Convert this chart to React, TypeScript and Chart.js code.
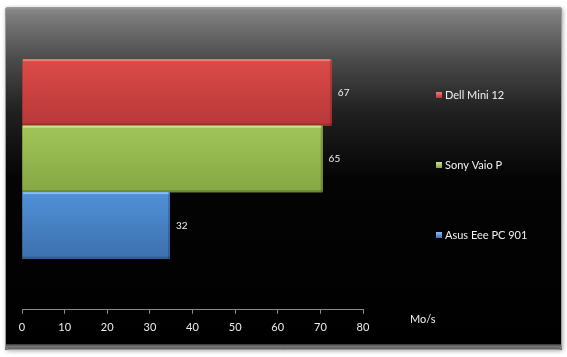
import React, { useEffect, useRef } from "react";
import { Chart, registerables } from "chart.js";

Chart.register(...registerables);

const seriesNames = ["Dell Mini 12", "Sony Vaio P", "Asus Eee PC 901"];
const seriesValues = [67, 65, 32];
const axisMin = 0;
const axisMax = 80;
const axisStep = 10;
const unitLabel = "Mo/s";

const baseColors = ["#d04340", "#98bb50", "#4a85cc"];
const topColors = ["#dc4b48", "#a2c55a", "#5091d8"];
const bottomColors = ["#b8383a", "#86a742", "#3e70ad"];
const highlightColors = ["#f27a76", "#c8e48a", "#86bdf5"];

const FONT = "Lato, 'Open Sans', 'DejaVu Sans', sans-serif";

function roundRect(ctx: CanvasRenderingContext2D, x: number, y: number, w: number, h: number, r: number) {
  ctx.beginPath();
  ctx.moveTo(x + r, y);
  ctx.lineTo(x + w - r, y);
  ctx.quadraticCurveTo(x + w, y, x + w, y + r);
  ctx.lineTo(x + w, y + h - r);
  ctx.quadraticCurveTo(x + w, y + h, x + w - r, y + h);
  ctx.lineTo(x + r, y + h);
  ctx.quadraticCurveTo(x, y + h, x, y + h - r);
  ctx.lineTo(x, y + r);
  ctx.quadraticCurveTo(x, y, x + r, y);
  ctx.closePath();
}

const framePlugin = {
  id: "frame",
  beforeDraw(chart: any) {
    const ctx: CanvasRenderingContext2D = chart.ctx;
    const fx = 5, fy = 7, fw = 557, fh = 343;
    ctx.save();
    ctx.fillStyle = "#ffffff";
    ctx.fillRect(0, 0, chart.width, chart.height);
    ctx.shadowColor = "rgba(0,0,0,0.35)";
    ctx.shadowBlur = 4;
    ctx.shadowOffsetX = 1;
    ctx.shadowOffsetY = 1;
    roundRect(ctx, fx, fy, fw, fh, 3);
    const g = ctx.createLinearGradient(0, fy, 0, fy + fh);
    g.addColorStop(0, "#8a8a8a");
    g.addColorStop(0.03, "#7a7a7a");
    g.addColorStop(0.15, "#4c4c4c");
    g.addColorStop(0.3, "#212121");
    g.addColorStop(0.5, "#040404");
    g.addColorStop(1, "#000000");
    ctx.fillStyle = g;
    ctx.fill();
    ctx.shadowColor = "transparent";
    const bg = ctx.createLinearGradient(0, fy + fh - 6, 0, fy + fh);
    bg.addColorStop(0, "#333333");
    bg.addColorStop(0.4, "#777777");
    bg.addColorStop(1, "#555555");
    ctx.fillStyle = bg;
    ctx.beginPath();
    ctx.moveTo(fx + 1, fy + fh - 6);
    ctx.lineTo(fx + fw - 1, fy + fh - 6);
    ctx.lineTo(fx + fw, fy + fh);
    ctx.lineTo(fx, fy + fh);
    ctx.closePath();
    ctx.fill();
    const tg = ctx.createLinearGradient(0, fy, 0, fy + 4);
    tg.addColorStop(0, "#a8a8a8");
    tg.addColorStop(1, "rgba(128,128,128,0)");
    ctx.fillStyle = tg;
    ctx.fillRect(fx + 1, fy, fw - 2, 4);
    roundRect(ctx, fx + 0.5, fy + 0.5, fw - 1, fh - 1, 3);
    ctx.strokeStyle = "#9a9a9a";
    ctx.lineWidth = 1;
    ctx.stroke();
    ctx.restore();
  },
};

const decorPlugin = {
  id: "decor",
  afterDatasetsDraw(chart: any) {
    const ctx: CanvasRenderingContext2D = chart.ctx;
    ctx.save();
    chart.data.datasets.forEach((ds: any, i: number) => {
      const meta = chart.getDatasetMeta(i);
      meta.data.forEach((bar: any) => {
        const p = bar.getProps(["x", "y", "base", "height"], true);
        const left = Math.min(p.base, p.x);
        const right = Math.max(p.base, p.x);
        const top = p.y - p.height / 2;
        const h = p.height;
        const g = ctx.createLinearGradient(0, top, 0, top + h);
        g.addColorStop(0, topColors[i]);
        g.addColorStop(1, bottomColors[i]);
        ctx.fillStyle = g;
        ctx.fillRect(left, top, right - left, h);
        ctx.fillStyle = highlightColors[i];
        ctx.fillRect(left + 1, top, right - left - 2, 2);
        ctx.fillStyle = "rgba(0,0,0,0.18)";
        ctx.fillRect(right - 2, top, 2, h);
        ctx.fillRect(left, top + h - 2, right - left, 2);
        ctx.fillRect(left, top, 1, h);
        ctx.fillStyle = "#f2f2f2";
        ctx.font = `10px ${FONT}`;
        ctx.textAlign = "left";
        ctx.textBaseline = "middle";
        ctx.fillText(String(ds.data[0]), right + 6, p.y);
      });
    });
    ctx.restore();
  },
  afterDraw(chart: any) {
    const ctx: CanvasRenderingContext2D = chart.ctx;
    ctx.save();
    const legendX = 436;
    const legendY0 = 95;
    const legendStep = 70;
    ctx.font = `11px ${FONT}`;
    ctx.textAlign = "left";
    ctx.textBaseline = "middle";
    seriesNames.forEach((name, i) => {
      const y = legendY0 + i * legendStep;
      const g = ctx.createLinearGradient(0, y - 3, 0, y + 3);
      g.addColorStop(0, highlightColors[i]);
      g.addColorStop(1, bottomColors[i]);
      ctx.fillStyle = g;
      ctx.fillRect(legendX, y - 3, 6, 6);
      ctx.fillStyle = "#f2f2f2";
      ctx.fillText(name, legendX + 9, y + 0.5);
    });
    ctx.fillText(unitLabel, 410, 319);
    ctx.restore();
  },
};

export default function App() {
  const ref = useRef<HTMLCanvasElement | null>(null);
  useEffect(() => {
    if (!ref.current) return;
    const chart = new Chart(ref.current, {
      type: "bar",
      data: {
        labels: [""],
        datasets: seriesNames.map((name, i) => ({
          label: name,
          data: [seriesValues[i]],
          backgroundColor: baseColors[i],
          borderWidth: 0,
          xAxisID: "x2",
          yAxisID: "y",
          categoryPercentage: 0.661,
          barPercentage: 1,
        })),
      },
      options: {
        indexAxis: "y",
        responsive: false,
        maintainAspectRatio: false,
        animation: false,
        layout: { padding: { left: 22, right: 204, top: 8, bottom: 16 } },
        plugins: {
          legend: { display: false },
          tooltip: { enabled: false },
        },
        scales: {
          y: { display: false },
          x: {
            type: "linear",
            position: "bottom",
            min: axisMin,
            max: axisMax,
            ticks: {
              stepSize: axisStep,
              color: "#eeeeee",
              font: { family: FONT, size: 11 },
              padding: 7,
            },
            grid: { drawOnChartArea: false, tickLength: 4, color: "#8c8c8c" },
            border: { display: true, color: "#8c8c8c" },
          },
          // perspective (front) scale of the 3D bars
          x2: {
            type: "linear",
            position: "bottom",
            display: false,
            min: axisMin,
            max: 73.73,
          },
        },
      } as any,
      plugins: [framePlugin, decorPlugin],
    });
    return () => chart.destroy();
  }, []);
  return (
    <div style={{ position: "fixed", left: 0, top: 0, width: 567, height: 357 }}>
      <canvas ref={ref} width={567} height={357} style={{ display: "block" }} />
    </div>
  );
}
